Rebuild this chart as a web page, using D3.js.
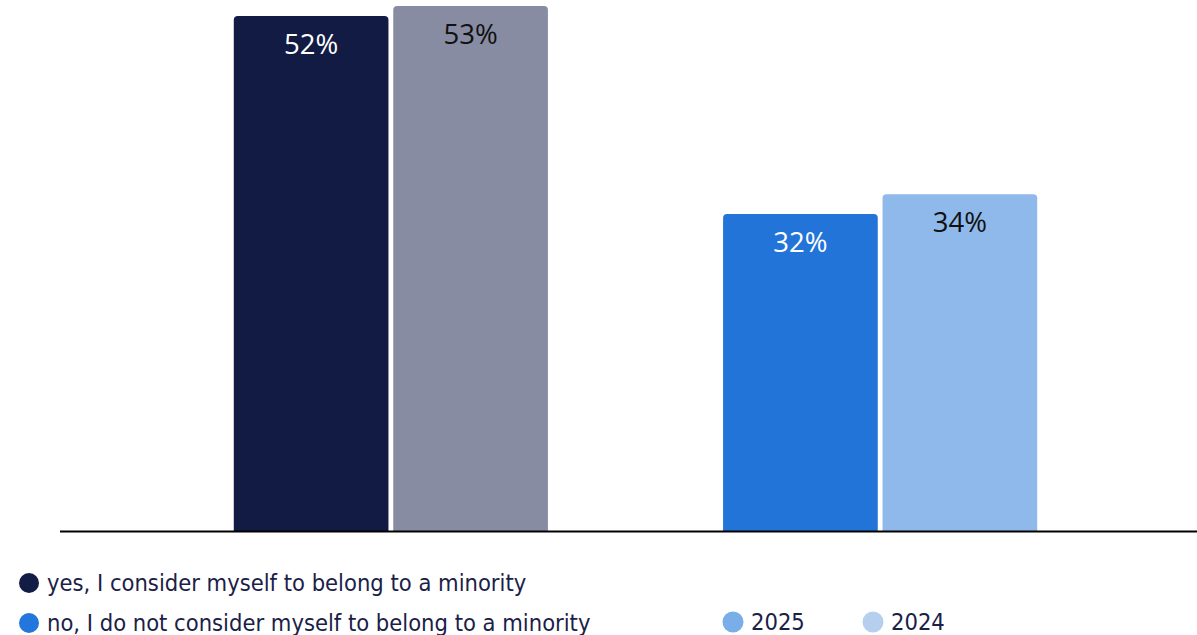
<!DOCTYPE html>
<html>
<head>
<meta charset="utf-8">
<script src="https://cdn.jsdelivr.net/npm/d3@7"></script>
<style>
  html, body { margin: 0; padding: 0; background: #fff; }
  svg { display: block; }
</style>
</head>
<body>
<svg id="chart" width="1197" height="635"></svg>
<script>
// Survey answers, one group per answer, one bar per year
const categories = [
  "yes, I consider myself to belong to a minority",
  "no, I do not consider myself to belong to a minority"
];
const years = ["2025", "2024"];
const values2025 = [52, 32];
const values2024 = [53, 34];

// Bar fill per answer and year
const barColors = [
  ["#121b44", "#878ca2"],
  ["#2374d9", "#8fb9eb"]
];
const labelColors = [
  ["#ffffff", "#111111"],
  ["#ffffff", "#111111"]
];
const categoryLegendColors = ["#131c45", "#2376db"];
const yearLegendColors = ["#7aaee8", "#b7cfee"];

const rows = categories.map((c, i) => ({
  category: c,
  bars: [
    { year: years[0], value: values2025[i] },
    { year: years[1], value: values2024[i] }
  ]
}));

const svg = d3.select("#chart");

const x0 = d3.scaleBand()
  .domain(categories)
  .range([87, 1184])
  .paddingInner(0.358)
  .paddingOuter(0.3);

const x1 = d3.scaleBand()
  .domain(years)
  .range([0, x0.bandwidth()])
  .paddingInner(0.03);

const y = d3.scaleLinear()
  .domain([0, 53])
  .range([531, 6]);

// Bar with rounded top corners
function topRounded(x, yTop, w, h, r) {
  return `M${x},${yTop + h}V${yTop + r}Q${x},${yTop} ${x + r},${yTop}` +
         `H${x + w - r}Q${x + w},${yTop} ${x + w},${yTop + r}V${yTop + h}Z`;
}

const groups = svg.append("g").selectAll("g")
  .data(rows)
  .join("g")
  .attr("transform", d => `translate(${x0(d.category)},0)`);

groups.each(function (row, gi) {
  const g = d3.select(this);
  g.selectAll("path")
    .data(row.bars)
    .join("path")
    .attr("d", d => topRounded(x1(d.year), y(d.value), x1.bandwidth(), y(0) - y(d.value), 4))
    .attr("fill", (d, i) => barColors[gi][i]);

  g.selectAll("text")
    .data(row.bars)
    .join("text")
    .attr("x", d => x1(d.year) + x1.bandwidth() / 2)
    .attr("y", d => y(d.value) + 38)
    .attr("text-anchor", "middle")
    .attr("font-family", "'Open Sans', 'Noto Sans', sans-serif")
    .attr("font-size", 27.5)
    .attr("fill", (d, i) => labelColors[gi][i])
    .text(d => d.value + "%");
});

// Baseline
svg.append("line")
  .attr("x1", 60).attr("x2", 1197)
  .attr("y1", y(0) + 0.5).attr("y2", y(0) + 0.5)
  .attr("stroke", "#000")
  .attr("stroke-width", 2);

// Legend: answers
const legendFont = "'DejaVu Sans Condensed', 'DejaVu Sans', sans-serif";
const catLegend = svg.append("g").selectAll("g")
  .data(categories)
  .join("g")
  .attr("transform", (d, i) => `translate(0,${583 + i * 40})`);
catLegend.append("circle")
  .attr("cx", 29).attr("cy", 0).attr("r", 10)
  .attr("fill", (d, i) => categoryLegendColors[i]);
catLegend.append("text")
  .attr("x", 47).attr("y", 8)
  .attr("font-family", legendFont)
  .attr("font-size", 23.5)
  .attr("fill", "#1a2047")
  .text(d => d);

// Legend: years
const yearLegend = svg.append("g").selectAll("g")
  .data(years)
  .join("g")
  .attr("transform", (d, i) => `translate(${733 + i * 140},622)`);
yearLegend.append("circle")
  .attr("cx", 0).attr("cy", 0).attr("r", 10.5)
  .attr("fill", (d, i) => yearLegendColors[i]);
yearLegend.append("text")
  .attr("x", 18).attr("y", 8)
  .attr("font-family", legendFont)
  .attr("font-size", 23.5)
  .attr("fill", "#1a2047")
  .text(d => d);
</script>
</body>
</html>
